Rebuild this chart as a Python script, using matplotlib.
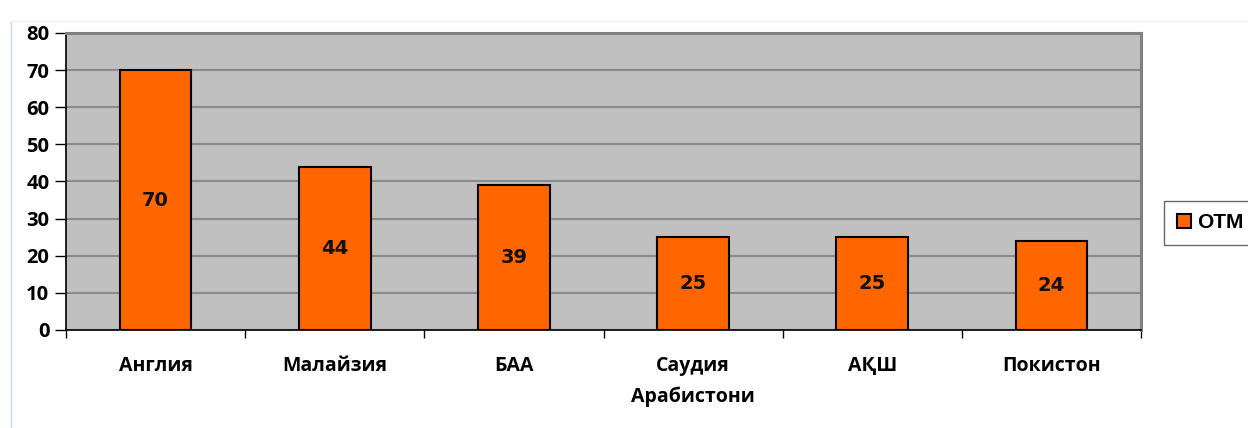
import matplotlib.pyplot as plt
from matplotlib.patches import Patch
from matplotlib.lines import Line2D

countries = ["Англия", "Малайзия", "БАА", "Саудия\nАрабистони", "АҚШ", "Покистон"]
otm = [70, 44, 39, 25, 25, 24]
series_name = "OTM"

plt.rcParams['font.family'] = ['Open Sans', 'DejaVu Sans']

fig = plt.figure(figsize=(12.48, 4.28), dpi=100)
ax = fig.add_axes([0.0529, 0.229, 0.8614, 0.694])
ax.set_facecolor('#c0c0c0')

x = range(len(countries))
bars = ax.bar(x, otm, width=0.4, color='#ff6600', edgecolor='black', linewidth=1.5, zorder=3)

for b, v in zip(bars, otm):
    ax.text(b.get_x() + b.get_width() / 2, v / 2, str(v), ha='center', va='center',
            fontsize=14, fontweight='bold', family='DejaVu Sans', color='#111111', zorder=4)

ax.set_xlim(-0.5, len(countries) - 0.5)
ax.set_ylim(0, 80)
ax.set_yticks(range(0, 81, 10))
ax.yaxis.grid(True, color='#8a8a8a', linewidth=1.5, zorder=0)
ax.set_axisbelow(True)

ax.set_xticks([i - 0.5 for i in range(len(countries) + 1)], minor=False)
ax.set_xticklabels([])
ax.set_xticks(list(x), minor=True)
ax.set_xticklabels(countries, minor=True, fontsize=14, fontweight='bold', linespacing=1.65)
ax.tick_params(axis='x', which='major', length=6, width=1, direction='out', color='black')
ax.tick_params(axis='x', which='minor', length=0, pad=19)
ax.tick_params(axis='y', length=8, width=1, direction='out', labelsize=14.5, pad=4)
for lab in ax.get_yticklabels():
    lab.set_fontweight('bold')

ax.spines['left'].set_color('black')
ax.spines['bottom'].set_color('black')
ax.spines['left'].set_linewidth(1.2)
ax.spines['bottom'].set_linewidth(1.2)
ax.spines['top'].set_color('#808080')
ax.spines['right'].set_color('#808080')
ax.spines['top'].set_linewidth(2.2)
ax.spines['right'].set_linewidth(2.2)

handle = Patch(facecolor='#ff6600', edgecolor='black', linewidth=1.5)
leg = fig.legend([handle], [series_name], loc='center left', bbox_to_anchor=(0.933, 0.479),
                 fancybox=False, edgecolor='#444444', handlelength=0.7, handleheight=0.7,
                 handletextpad=0.25, borderpad=0.6, borderaxespad=0,
                 prop={'weight': 'bold', 'size': 15, 'family': 'Liberation Sans'})
leg.get_frame().set_linewidth(1)

# faint screenshot edges
fig.add_artist(Line2D([0.009, 0.009], [0, 0.95], color='#c8d8f0', linewidth=1))
fig.add_artist(Line2D([0.009, 1], [0.95, 0.95], color='#eeeeee', linewidth=1))

fig.savefig('out.png', dpi=100)
